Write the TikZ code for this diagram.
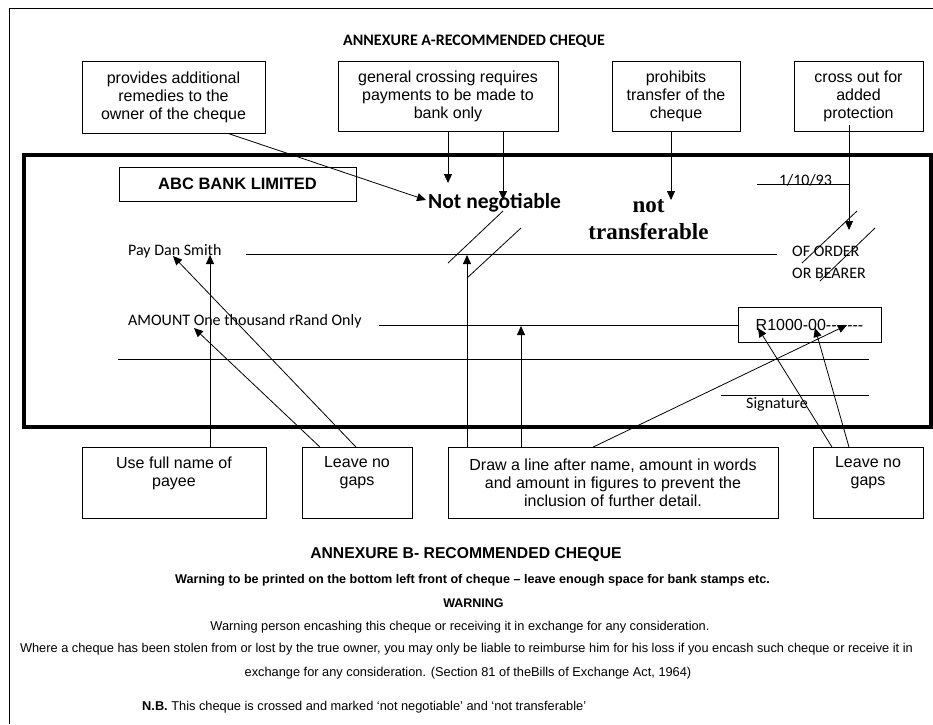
\documentclass[tikz,border=0pt]{standalone}
\usepackage{fontspec}
\setmainfont{Liberation Sans}
\newfontfamily\calfont{Carlito}
\newfontfamily\tmsfont{Liberation Serif}
\usetikzlibrary{arrows.meta}
\begin{document}
\begin{tikzpicture}[x=1pt,y=-1pt,
  ln/.style={line width=0.8pt},
  box/.style={draw, line width=0.8pt, align=center, inner sep=0pt, font=\fontsize{16}{18}\selectfont},
  arr/.style={line width=0.8pt, -{Triangle[length=9pt,width=8pt]}},
  cal/.style={inner sep=0pt, anchor=west, font=\calfont\fontsize{16}{18}\selectfont},
  btxt/.style={inner sep=0pt, font=\fontsize{12.8}{15}\selectfont}]
\useasboundingbox (0,0) rectangle (933,724);
\fill[white] (0,0) rectangle (933,724);
% outer frame
\draw[ln] (9,724) -- (9,8) -- (933,8);
% title
\node[font=\calfont\bfseries\fontsize{16}{18}\selectfont] (ttl) at (474,41) {ANNEXURE A-RECOMMENDED CHEQUE};
% top boxes
\node[box, minimum width=183pt, minimum height=72pt] (t1) at (173.5,97) {provides additional\\remedies to the\\owner of the cheque};
\node[box, minimum width=220pt, minimum height=70pt] (t2) at (448,96) {general crossing requires\\payments to be made to\\bank only};
\node[box, minimum width=128pt, minimum height=70pt] (t3) at (676,96) {prohibits\\transfer of the\\cheque};
\node[box, minimum width=129pt, minimum height=70pt] (t4) at (858.5,96) {cross out for\\added\\protection};
% cheque frame
\draw[line width=4pt] (24,155) rectangle (930.5,427);
\node[draw, line width=0.8pt, minimum width=237pt, minimum height=34pt, inner sep=0pt, font=\bfseries\fontsize{16.5}{18}\selectfont] (abc) at (237.5,184) {ABC BANK LIMITED};
\node[inner sep=0pt, anchor=west, font=\calfont\bfseries\fontsize{21.5}{24}\selectfont] (nn) at (428,203) {Not negotiable};
\node[align=center, inner sep=0pt, font=\tmsfont\bfseries\fontsize{23}{27}\selectfont] (nt) at (648.5,220) {not\\transferable};
\node[inner sep=0pt, anchor=base, font=\calfont\fontsize{16}{18}\selectfont] (dt) at (805.5,185.5) {1/10/93};
\draw[ln] (757,184) -- (849,184);
% crossings
\draw[ln] (448,263) -- (503,211);
\draw[ln] (467,278) -- (521,228);
\draw[ln] (802,263) -- (857,211);
\draw[ln] (820,281) -- (875,228);
% cheque lines and texts
\node[cal] (pay) at (128,251) {Pay Dan Smith};
\draw[ln] (246,254) -- (777,254);
\node[cal] (of) at (792,251) {OF ORDER};
\node[cal] (ob) at (792,273) {OR BEARER};
\node[cal] (amt) at (128,321) {AMOUNT One thousand rRand Only};
\draw[ln] (379,325) -- (738,325);
\node[box, minimum width=143pt, minimum height=35pt] (rb) at (809.5,324.5) {R1000{-}00{-}{-}{-}{-}{-}{-}{-}};
\draw[ln] (118,359) -- (869,359);
\draw[ln] (721,395) -- (869,395);
\node[cal] (sig) at (746,404) {Signature};
% bottom boxes
\node[box, minimum width=184pt, minimum height=71pt] (b1) at (174,483) {Use full name of\\payee\\\strut};
\node[box, minimum width=110pt, minimum height=71pt] (b2) at (357,483) {Leave no\\gaps\\\strut};
\node[box, minimum width=330pt, minimum height=71pt] (b3) at (613,483) {Draw a line after name, amount in words\\and amount in figures to prevent the\\inclusion of further detail.};
\node[box, minimum width=110pt, minimum height=71pt] (b4) at (868,483) {Leave no\\gaps\\\strut};
% arrow tips
\coordinate (a1) at (426,200);
\coordinate (a2) at (448,183);
\coordinate (a3) at (503,200);
\coordinate (a4) at (671,200);
\coordinate (a5) at (849,230);
\coordinate (c1) at (210,255);
\coordinate (c2) at (194,328);
\coordinate (c3) at (173,256);
\coordinate (c4) at (467,255);
\coordinate (c5) at (521,326);
\coordinate (c6) at (847,325);
\coordinate (c7) at (758,328);
\coordinate (c8) at (815,328);
% top arrows
\draw[arr] ([xshift=54.5pt]t1.south) -- (a1);
\draw[arr] (t2.south) -- (a2);
\draw[arr] ([xshift=55pt]t2.south) -- (a3);
\draw[arr] ([xshift=-5pt]t3.south) -- (a4);
\draw[arr] ([xshift=-9.5pt,yshift=6pt]t4.south) -- (a5);
% bottom arrows
\draw[arr] ([xshift=36pt]b1.north) -- (c1);
\draw[arr] ([xshift=-37pt]b2.north) -- (c2);
\draw[arr] ([xshift=-1pt]b2.north) -- (c3);
\draw[arr] ([xshift=-146pt]b3.north) -- (c4);
\draw[arr] ([xshift=-92pt]b3.north) -- (c5);
\draw[arr] ([xshift=-20pt]b3.north) -- (c6);
\draw[arr] ([xshift=-36pt]b4.north) -- (c7);
\draw[arr] ([xshift=-19pt]b4.north) -- (c8);
% annexure B
\node[inner sep=0pt, font=\bfseries\fontsize{15.7}{18}\selectfont] (hb) at (466,555) {ANNEXURE B- RECOMMENDED CHEQUE};
\node[btxt, font=\bfseries\fontsize{12.6}{15}\selectfont] (w1) at (472.5,580) {Warning to be printed on the bottom left front of cheque -- leave enough space for bank stamps etc.};
\node[btxt, font=\bfseries\fontsize{12.5}{15}\selectfont] (w2) at (473.5,603) {WARNING};
\node[btxt] (w3) at (460,627) {Warning person encashing this cheque or receiving it in exchange for any consideration.};
\node[btxt] (w4) at (466.5,649) {Where a cheque has been stolen from or lost by the true owner, you may only be liable to reimburse him for his loss if you encash such cheque or receive it in};
\node[btxt] (w5) at (468,673) {exchange for any consideration. (Section 81 of theBills of Exchange Act, 1964)};
\node[btxt, anchor=west] (w6) at (142,707) {\textbf{N.B.} This cheque is crossed and marked `not negotiable' and `not transferable'};
\end{tikzpicture}
\end{document}
